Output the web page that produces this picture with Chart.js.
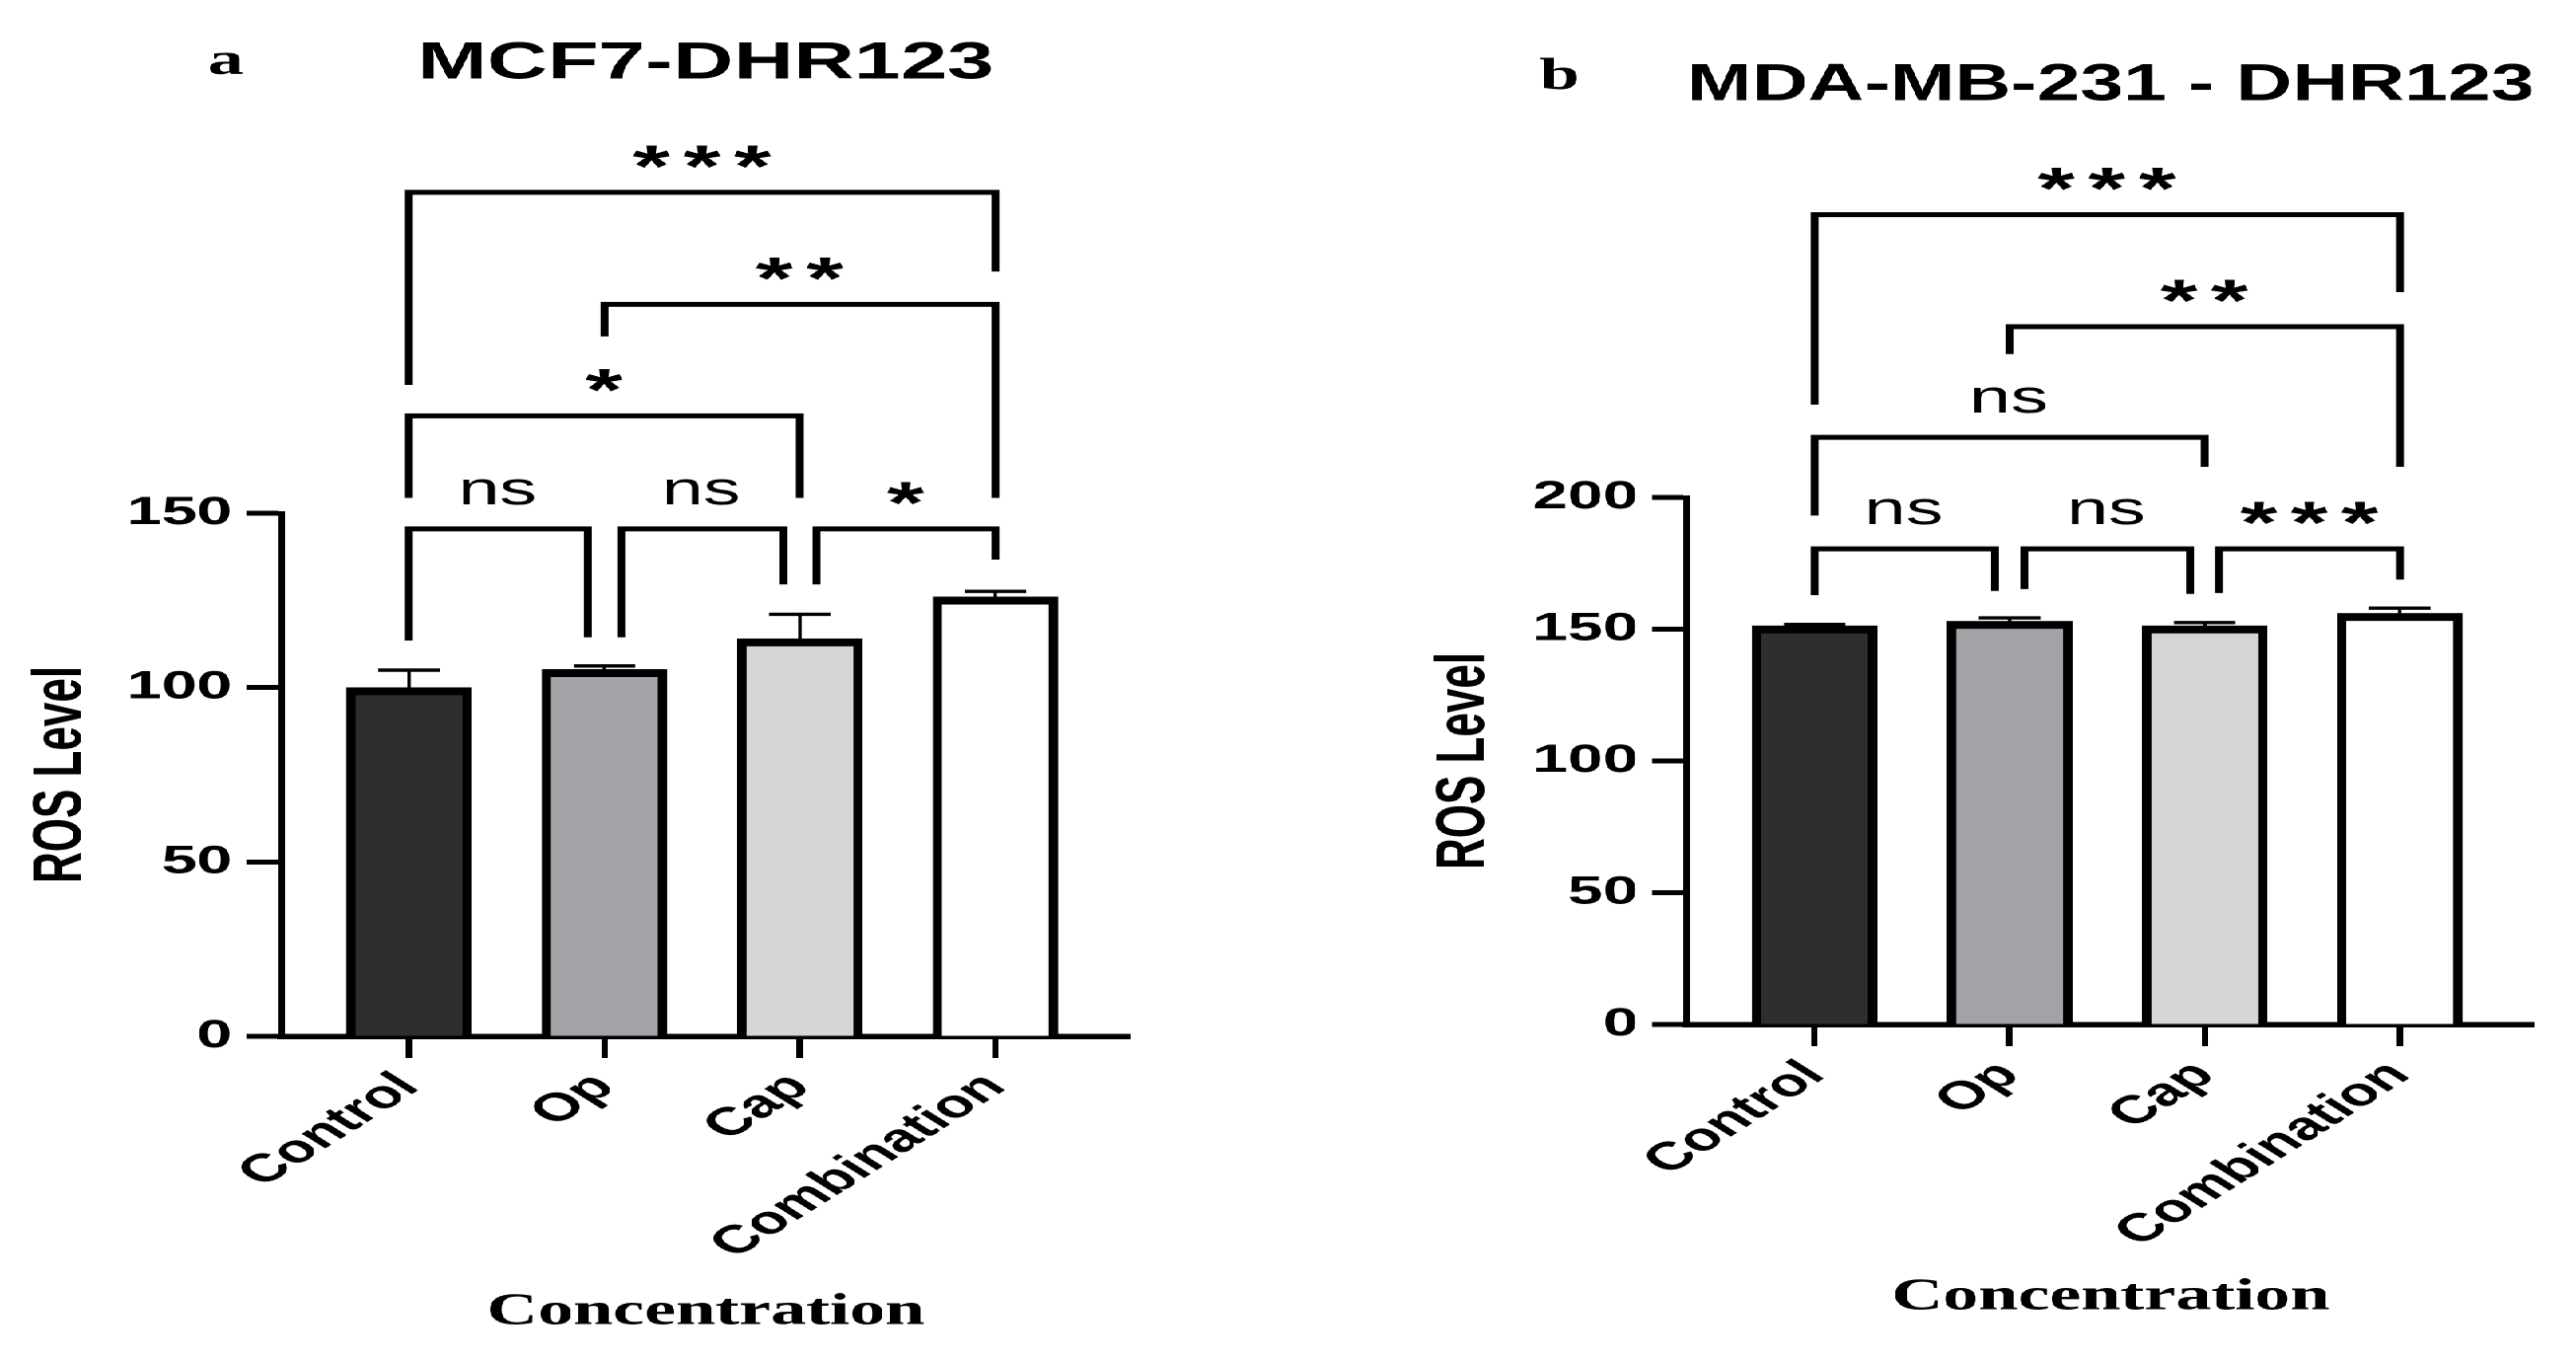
<!DOCTYPE html>
<html>
<head>
<meta charset="utf-8">
<script src="https://cdn.jsdelivr.net/npm/chart.js@4.4.0/dist/chart.umd.min.js"></script>
<style>
  html, body { margin: 0; padding: 0; background: #ffffff; overflow: hidden; width: 2611px; height: 1380px; }
  #wrap { position: absolute; left: 0; top: 0; width: 1632px; height: 1380px; display: flex;
          transform: scaleX(1.59988); transform-origin: 0 0; }
  .panel { position: relative; width: 816px; height: 1380px; }
  canvas { display: block; }
</style>
</head>
<body>
<div id="wrap">
  <div class="panel"><canvas id="chartA" width="816" height="1380"></canvas></div>
  <div class="panel"><canvas id="chartB" width="816" height="1380"></canvas></div>
</div>
<script>
// ---------------- data ----------------
const categories = ['Control', 'Op', 'Cap', 'Combination'];
const barColors  = ['#2e2e2e', '#a3a3a7', '#d5d5d5', '#ffffff'];

const titleA = 'MCF7-DHR123';
const rosA   = [100, 105.2, 114, 126];
const semA   = [5, 1, 7, 1.6];
const yTicksA = [0, 50, 100, 150];
// [from, to, label, bracket level, left leg end, right leg end] (ROS units)
const compA = [
  [0, 0.915, 'ns', 145.5, 113.5, 114.4],
  [1.085, 1.915, 'ns', 145.5, 114.4, 129.6],
  [2.085, 3, '*', 145.5, 129.6, 136.7],
  [0, 2, '*', 177.9, 154.4, 154.4],
  [1, 3, '**', 209.9, 200.7, 154.4],
  [0, 3, '***', 242, 186.8, 219.3]
];

const titleB = 'MDA-MB-231 - DHR123';
const rosB   = [151.3, 153, 151.3, 156];
const semB   = [0.5, 1.3, 1.2, 2];
const yTicksB = [0, 50, 100, 150, 200];
const compB = [
  [0, 0.925, 'ns', 180.5, 162.9, 164.5],
  [1.075, 1.925, 'ns', 180.5, 165.2, 163.4],
  [2.075, 3, '***', 180.5, 163.7, 168.8],
  [0, 2, 'ns', 222.8, 193.1, 211.6],
  [1, 3, '**', 264.8, 254.4, 211.6],
  [0, 3, '***', 307.3, 235.2, 277.9]
];

// ---------------- styling ----------------
const SANS  = "'Liberation Sans', Arial, Helvetica, sans-serif";
const SERIF = "'Liberation Serif', 'Times New Roman', serif";

function fitFontSize(ctx, text, targetInkH, weight, family) {
  ctx.font = weight + ' 100px ' + family;
  const m = ctx.measureText(text);
  const h = m.actualBoundingBoxAscent + m.actualBoundingBoxDescent;
  return h > 0 ? 100 * targetInkH / h : 50;
}

const annotPlugin = {
  id: 'annot',
  afterDatasetsDraw(chart, args, opts) {
    const { ctx } = chart;
    const x = chart.scales.x, y = chart.scales.y;
    ctx.save();
    ctx.strokeStyle = '#000';
    ctx.fillStyle = '#000';
    ctx.lineCap = 'butt';
    ctx.lineJoin = 'miter';
    // error bars (mean + SEM)
    opts.values.forEach((v, i) => {
      const px = x.getPixelForValue(i);
      const y0 = y.getPixelForValue(v);
      const y1 = y.getPixelForValue(v + opts.errors[i]);
      ctx.lineWidth = 2.2;
      ctx.beginPath(); ctx.moveTo(px, y0); ctx.lineTo(px, y1); ctx.stroke();
      ctx.lineWidth = 3.4;
      ctx.beginPath(); ctx.moveTo(px - 19.5, y1); ctx.lineTo(px + 19.5, y1); ctx.stroke();
    });
    // significance brackets
    opts.comparisons.forEach(([a, b, label, level, endA, endB]) => {
      const xa = x.getPixelForValue(a), xb = x.getPixelForValue(b);
      const yl = y.getPixelForValue(level);
      ctx.lineWidth = 5;
      ctx.beginPath();
      ctx.moveTo(xa, y.getPixelForValue(endA));
      ctx.lineTo(xa, yl);
      ctx.lineTo(xb, yl);
      ctx.lineTo(xb, y.getPixelForValue(endB));
      ctx.stroke();

      const isStar = label.indexOf('*') >= 0;
      let size, spacing = 0, weight = 'normal';
      if (isStar) {
        weight = 'bold';
        size = fitFontSize(ctx, '*', 23, weight, SANS);
        ctx.font = weight + ' ' + size + 'px ' + SANS;
        const w = ctx.measureText('*').width;
        spacing = 32 - w;
      } else {
        size = fitFontSize(ctx, 'ns', 26, weight, SANS);
      }
      ctx.font = weight + ' ' + size + 'px ' + SANS;
      try { ctx.letterSpacing = spacing.toFixed(2) + 'px'; } catch (e) {}
      ctx.textAlign = 'left';
      ctx.textBaseline = 'alphabetic';
      const m = ctx.measureText(label);
      const cx = (xa + xb) / 2;
      const tx = cx - (m.actualBoundingBoxRight - m.actualBoundingBoxLeft) / 2;
      const inkBottom = yl - 25;
      const ty = inkBottom - m.actualBoundingBoxDescent;
      ctx.fillText(label, tx, ty);
      try { ctx.letterSpacing = '0px'; } catch (e) {}
    });
    ctx.restore();
  },
  afterDraw(chart, args, opts) {
    const { ctx } = chart;
    ctx.save();
    ctx.fillStyle = '#000';
    ctx.font = 'bold 46px ' + SERIF;
    ctx.textAlign = 'center';
    ctx.textBaseline = 'alphabetic';
    ctx.fillText(opts.panelLetter, opts.letterX, opts.letterY);
    ctx.restore();
  }
};

function makeChart(id, p) {
  const data = p.values.map((v, i) => ({ x: i, y: v }));
  return new Chart(document.getElementById(id), {
    type: 'bar',
    data: {
      datasets: [{
        data: data,
        backgroundColor: barColors,
        borderColor: '#000000',
        borderWidth: { top: 8, left: 6, right: 6, bottom: 0 },
        borderSkipped: 'start',
        barThickness: 79
      }]
    },
    options: {
      responsive: false,
      animation: false,
      devicePixelRatio: 2,
      layout: { padding: { left: 0, right: p.padRight, top: 0, bottom: 0 } },
      plugins: {
        legend: { display: false },
        tooltip: { enabled: false },
        title: {
          display: true, text: p.title, fullSize: false, color: '#000',
          font: { family: SANS, size: 53, weight: 'bold' },
          padding: { top: p.titlePadTop, bottom: p.titlePadBottom }
        },
        annot: {
          values: p.values, errors: p.errors, comparisons: p.comparisons,
          panelLetter: p.letter, letterX: p.letterX, letterY: p.letterY
        }
      },
      scales: {
        x: {
          type: 'linear', min: -0.655, max: 3.69, offset: false,
          afterBuildTicks: s => { s.ticks = categories.map((c, i) => ({ value: i })); },
          afterFit: s => { s.height = p.xHeight; },
          border: { display: true, color: '#000', width: 5.5 },
          grid: { display: true, offset: false, drawOnChartArea: false, drawTicks: true, tickLength: 22, tickWidth: 4, color: '#000' },
          ticks: {
            autoSkip: false, maxRotation: 45, minRotation: 45, color: '#000', padding: 6,
            font: { family: SANS, size: 40, weight: 'bold' },
            callback: (v) => categories[Math.round(v)]
          },
          title: {
            display: true, text: 'Concentration', color: '#000',
            font: { family: SERIF, size: 45, weight: 'bold' },
            padding: { top: 0, bottom: p.xTitlePad }
          }
        },
        y: {
          min: 0, max: p.yMax,
          afterBuildTicks: s => { s.ticks = p.yTicks.map(v => ({ value: v })); },
          afterFit: s => { s.width = p.yWidth; },
          border: { display: true, color: '#000', width: 4.5 },
          grid: { display: true, drawOnChartArea: false, drawTicks: true, tickLength: 22, tickWidth: 5, color: '#000' },
          ticks: { color: '#000', padding: 9, font: { family: SANS, size: 40, weight: 'bold' } },
          title: {
            display: true, text: 'ROS Level', color: '#000',
            font: { family: SANS, size: 44, weight: 'bold' },
            padding: { top: p.yTitlePad, bottom: 0 }
          }
        }
      }
    },
    plugins: [annotPlugin]
  });
}

makeChart('chartA', {
  title: titleA, values: rosA, errors: semA, comparisons: compA, yTicks: yTicksA, yMax: 150,
  padRight: 100, yWidth: 178, xHeight: 330, xTitlePad: 23, yTitlePad: 12.6,
  titlePadTop: 33, titlePadBottom: 423.4,
  letter: 'a', letterX: 143, letterY: 75
});
makeChart('chartB', {
  title: titleB, values: rosB, errors: semB, comparisons: compB, yTicks: yTicksB, yMax: 200,
  padRight: 26.4, yWidth: 252.75, xHeight: 342, xTitlePad: 38, yTitlePad: 85.6,
  titlePadTop: 55.2, titlePadBottom: 385.2,
  letter: 'b', letterX: 172, letterY: 90
});
</script>
</body>
</html>
